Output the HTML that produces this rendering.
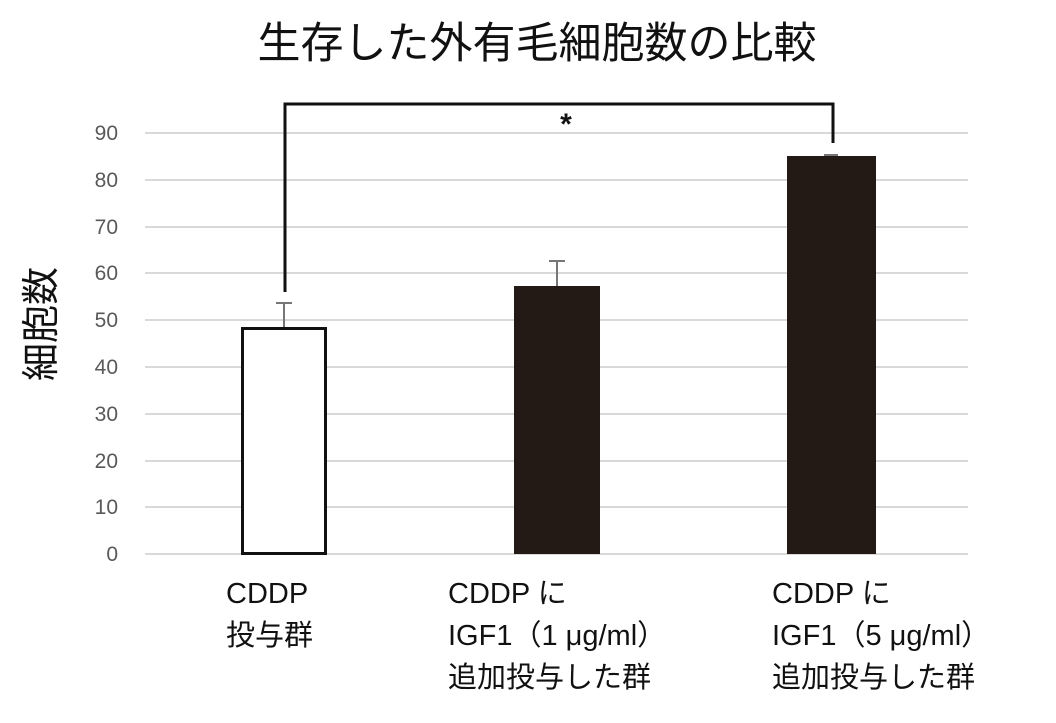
<!DOCTYPE html>
<html><head><meta charset="utf-8"><style>
body{margin:0;background:#fff;}
svg text{font-family:"Liberation Sans","Noto Sans CJK JP",sans-serif;}
</style></head><body>
<svg width="1056" height="718" viewBox="0 0 1056 718" xmlns="http://www.w3.org/2000/svg">
<rect width="1056" height="718" fill="#fff"/>
<text x="537" y="58" font-size="43" text-anchor="middle" fill="#111">生存した外有毛細胞数の比較</text>
<g stroke="#d9d9d9" stroke-width="2">
<line x1="145" x2="968" y1="133" y2="133"/><line x1="145" x2="968" y1="180" y2="180"/>
<line x1="145" x2="968" y1="227" y2="227"/><line x1="145" x2="968" y1="273" y2="273"/>
<line x1="145" x2="968" y1="320" y2="320"/><line x1="145" x2="968" y1="367" y2="367"/>
<line x1="145" x2="968" y1="414" y2="414"/><line x1="145" x2="968" y1="461" y2="461"/>
<line x1="145" x2="968" y1="507" y2="507"/><line x1="145" x2="968" y1="554" y2="554"/>
</g>
<g font-size="21" fill="#595959" text-anchor="end">
<text x="118" y="140">90</text><text x="118" y="187">80</text><text x="118" y="234">70</text>
<text x="118" y="280">60</text><text x="118" y="327">50</text><text x="118" y="374">40</text>
<text x="118" y="421">30</text><text x="118" y="468">20</text><text x="118" y="514">10</text>
<text x="118" y="561">0</text>
</g>
<text transform="translate(54,324) rotate(-90)" font-size="38" text-anchor="middle" fill="#111">細胞数</text>
<rect x="242.5" y="328.5" width="83" height="225" fill="#fff" stroke="#111" stroke-width="3"/>
<rect x="514" y="286" width="86" height="268" fill="#231a15"/>
<rect x="787" y="156" width="89" height="398" fill="#231a15"/>
<g stroke="#777" stroke-width="2" fill="none">
<path d="M284 327V303M276 303H292"/>
<path d="M557 286V261M549 261H565"/>
<path d="M831 156V155M824 155H838"/>
</g>
<path d="M285 292V104H833V143" fill="none" stroke="#111" stroke-width="3"/>
<text x="566" y="134" font-size="30" font-weight="bold" text-anchor="middle" fill="#111">*</text>
<g font-size="29" fill="#111">
<text x="226" y="603">CDDP</text><text x="226" y="645">投与群</text>
<text x="448" y="603">CDDP に</text><text x="448" y="645">IGF1（1 μg/ml）</text><text x="448" y="687">追加投与した群</text>
<text x="772" y="603">CDDP に</text><text x="772" y="645">IGF1（5 μg/ml）</text><text x="772" y="687">追加投与した群</text>
</g>
</svg>
</body></html>
